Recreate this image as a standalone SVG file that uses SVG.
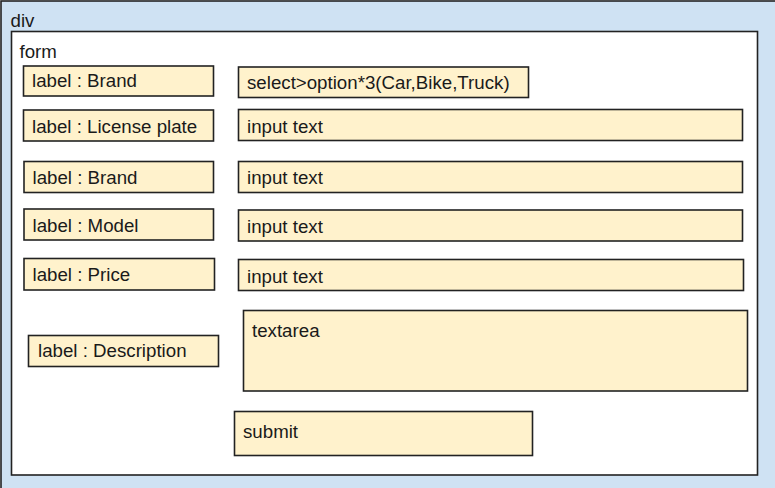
<svg xmlns="http://www.w3.org/2000/svg" width="775" height="488" viewBox="0 0 775 488">
<style>
.c{stroke:#222;stroke-width:1.6;}
.box{fill:#fff2cc;stroke:#222;stroke-width:1.6;}
text{font-family:"Liberation Sans",Arial,sans-serif;font-size:18.7px;fill:#1a1a1a;}
</style>
<g id="div">
<rect class="c" x="1" y="1" width="800" height="520" fill="#cfe2f3"/>
<text x="10.5" y="27">div</text>
</g>
<g id="form">
<rect class="c" x="11.5" y="31.5" width="746" height="443.5" fill="#ffffff"/>
<text x="19.5" y="58">form</text>
</g>
<g id="label-brand">
<rect class="box" x="23.5" y="66" width="190" height="30"/>
<text x="32" y="87">label : Brand</text>
</g>
<g id="select">
<rect class="box" x="238.5" y="67" width="290" height="30.5"/>
<text x="247" y="88.5">select&gt;option*3(Car,Bike,Truck)</text>
</g>
<g id="label-license">
<rect class="box" x="23.5" y="110" width="190" height="31"/>
<text x="32" y="132.5">label : License plate</text>
</g>
<g id="input-license">
<rect class="box" x="238.5" y="109.5" width="504" height="31"/>
<text x="247" y="132.5">input text</text>
</g>
<g id="label-brand2">
<rect class="box" x="24" y="161.5" width="189.5" height="31"/>
<text x="32.5" y="184">label : Brand</text>
</g>
<g id="input-brand">
<rect class="box" x="238.5" y="161.5" width="504" height="31"/>
<text x="247" y="184.3">input text</text>
</g>
<g id="label-model">
<rect class="box" x="24" y="209" width="189.5" height="31"/>
<text x="32.5" y="231.7">label : Model</text>
</g>
<g id="input-model">
<rect class="box" x="238.5" y="210" width="504" height="31"/>
<text x="247" y="232.7">input text</text>
</g>
<g id="label-price">
<rect class="box" x="24" y="258.5" width="190.5" height="31.5"/>
<text x="32.5" y="281">label : Price</text>
</g>
<g id="input-price">
<rect class="box" x="238.5" y="259.5" width="505" height="31"/>
<text x="247" y="282.7">input text</text>
</g>
<g id="label-description">
<rect class="box" x="28.5" y="335.5" width="190" height="31"/>
<text x="38" y="357">label : Description</text>
</g>
<g id="textarea">
<rect class="box" x="243.5" y="310.5" width="504" height="80.5"/>
<text x="252" y="336.7">textarea</text>
</g>
<g id="submit">
<rect class="box" x="234.5" y="411.5" width="298" height="44"/>
<text x="243" y="438">submit</text>
</g>
<g id="connectors"></g>
</svg>
